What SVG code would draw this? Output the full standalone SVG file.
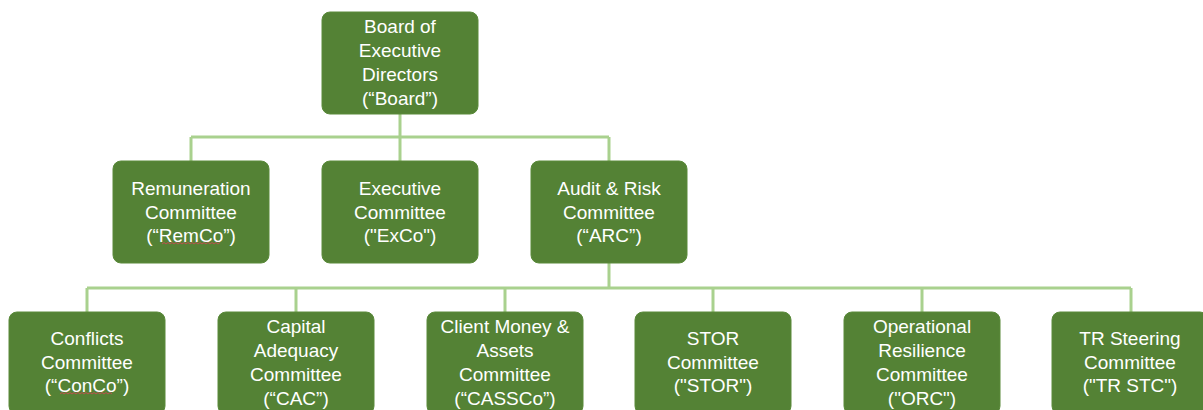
<svg xmlns="http://www.w3.org/2000/svg" width="1203" height="410" viewBox="0 0 1203 410">
<style>
.node{fill:#548235;stroke:#5a8a3a;stroke-width:1}
.t{font-family:"Liberation Sans",Arial,sans-serif;font-size:19px;fill:#ffffff;text-anchor:middle}
.conn{fill:none;stroke:#a9d18e;stroke-width:3}
.sq{fill:none;stroke:#c0504d;stroke-width:1}
</style>
<rect width="1203" height="410" fill="#ffffff"/>
<g id="connectors">
<path class="conn" d="M400 114V161M191 137H609M191 137V161M609 137V161M609 263V288M87 288H1131M87 288V312M296 288V312M505 288V312M713 288V312M922 288V312M1131 288V312"/>
</g>
<g id="board">
<rect class="node" x="322" y="12" width="156" height="102" rx="8"/>
<text class="t"><tspan x="400" y="33">Board of</tspan><tspan x="400" y="57">Executive</tspan><tspan x="400" y="81">Directors</tspan><tspan x="400" y="105">(“Board”)</tspan></text>
</g>
<g id="remco">
<rect class="node" x="113" y="161" width="156" height="102" rx="8"/>
<text class="t"><tspan x="191" y="195">Remuneration</tspan><tspan x="191" y="219">Committee</tspan><tspan x="191" y="242">(“RemCo”)</tspan></text>
<path class="sq" d="M162 244l2-1.5 2 1.5 2-1.5 2 1.5 2-1.5 2 1.5 2-1.5 2 1.5 2-1.5 2 1.5 2-1.5 2 1.5 2-1.5 2 1.5 2-1.5 2 1.5 2-1.5 2 1.5 2-1.5 2 1.5 2-1.5 2 1.5 2-1.5 2 1.5 2-1.5 2 1.5 2-1.5 2 1.5 2-1.5"/>
</g>
<g id="exco">
<rect class="node" x="322" y="161" width="156" height="102" rx="8"/>
<text class="t"><tspan x="400" y="195">Executive</tspan><tspan x="400" y="219">Committee</tspan><tspan x="400" y="242">("ExCo")</tspan></text>
</g>
<g id="arc">
<rect class="node" x="531" y="161" width="156" height="102" rx="8"/>
<text class="t"><tspan x="609" y="195">Audit &amp; Risk</tspan><tspan x="609" y="219">Committee</tspan><tspan x="609" y="242">(“ARC”)</tspan></text>
</g>
<g id="conco">
<rect class="node" x="9" y="312" width="156" height="102" rx="8"/>
<text class="t"><tspan x="87" y="345">Conflicts</tspan><tspan x="87" y="369">Committee</tspan><tspan x="87" y="392">(“ConCo”)</tspan></text>
<path class="sq" d="M60 394l2-1.5 2 1.5 2-1.5 2 1.5 2-1.5 2 1.5 2-1.5 2 1.5 2-1.5 2 1.5 2-1.5 2 1.5 2-1.5 2 1.5 2-1.5 2 1.5 2-1.5 2 1.5 2-1.5 2 1.5 2-1.5 2 1.5 2-1.5 2 1.5 2-1.5 2 1.5"/>
</g>
<g id="cac">
<rect class="node" x="218" y="312" width="156" height="102" rx="8"/>
<text class="t"><tspan x="296" y="333">Capital</tspan><tspan x="296" y="357">Adequacy</tspan><tspan x="296" y="381">Committee</tspan><tspan x="296" y="405">(“CAC”)</tspan></text>
</g>
<g id="cassco">
<rect class="node" x="427" y="312" width="156" height="102" rx="8"/>
<text class="t"><tspan x="505" y="333">Client Money &amp;</tspan><tspan x="505" y="357">Assets</tspan><tspan x="505" y="381">Committee</tspan><tspan x="505" y="405">(“CASSCo”)</tspan></text>
</g>
<g id="stor">
<rect class="node" x="635" y="312" width="156" height="102" rx="8"/>
<text class="t"><tspan x="713" y="345">STOR</tspan><tspan x="713" y="369">Committee</tspan><tspan x="713" y="392">("STOR")</tspan></text>
</g>
<g id="orc">
<rect class="node" x="844" y="312" width="156" height="102" rx="8"/>
<text class="t"><tspan x="922" y="333">Operational</tspan><tspan x="922" y="357">Resilience</tspan><tspan x="922" y="381">Committee</tspan><tspan x="922" y="405">("ORC")</tspan></text>
</g>
<g id="trstc">
<rect class="node" x="1052" y="312" width="156" height="102" rx="8"/>
<text class="t"><tspan x="1130" y="345">TR Steering</tspan><tspan x="1130" y="369">Committee</tspan><tspan x="1130" y="392">("TR STC")</tspan></text>
</g>
</svg>
